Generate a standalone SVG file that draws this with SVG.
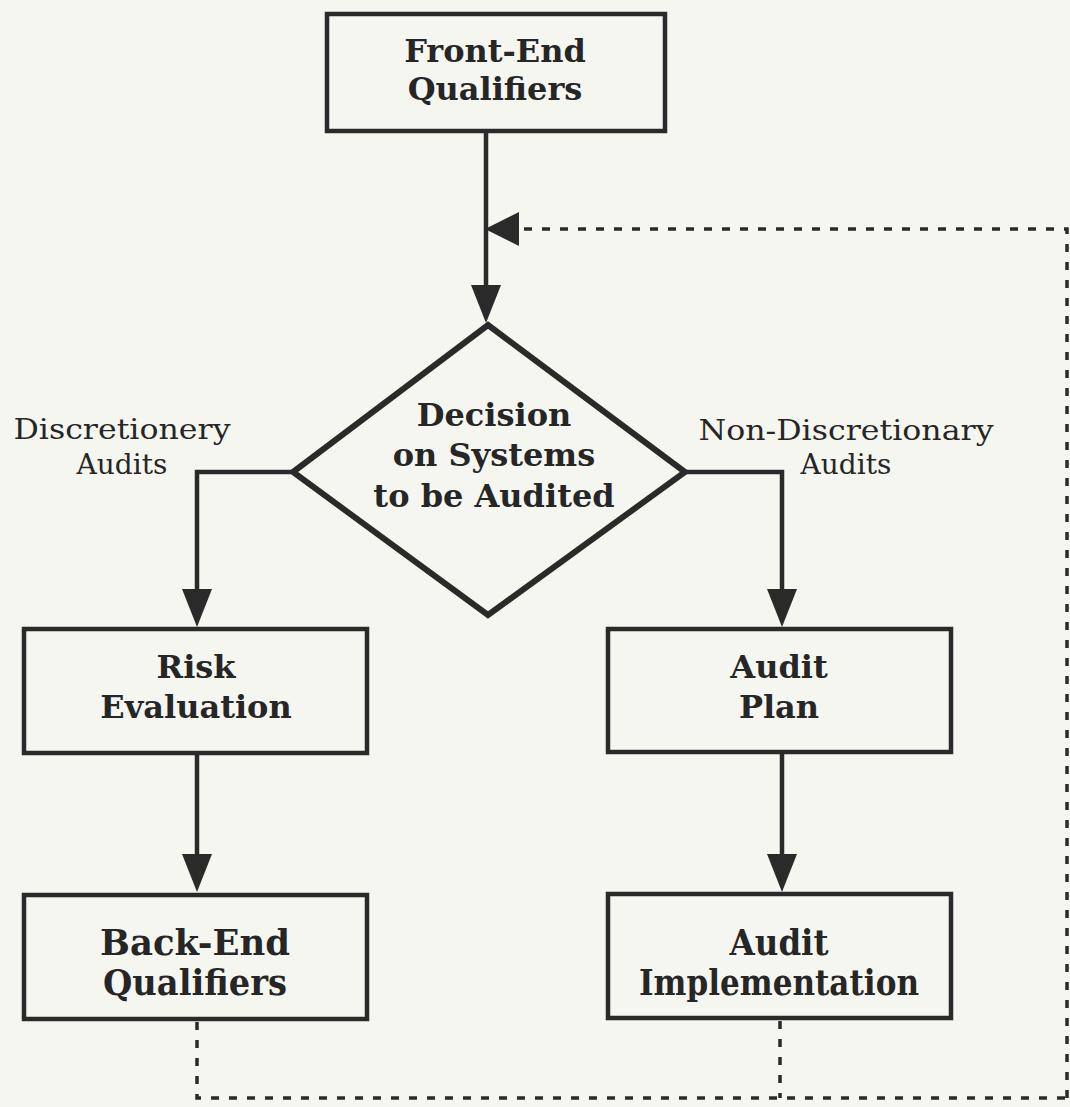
<svg xmlns="http://www.w3.org/2000/svg" width="1070" height="1107" viewBox="0 0 1070 1107">
  <style>
    .box { fill: #f6f6f1; stroke: #2a2a2a; stroke-width: 4.5; }
    .diamond { fill: #f6f6f1; stroke: #2a2a2a; stroke-width: 6; stroke-linejoin: miter; }
    .line { fill: none; stroke: #2a2a2a; stroke-width: 4.5; }
    .dash { fill: none; stroke: #2a2a2a; stroke-width: 3.5; stroke-dasharray: 8 10; }
    .head { fill: #2a2a2a; }
    .title { font-family: "DejaVu Serif", "Liberation Serif", serif; font-weight: bold; font-size: 32px; fill: #262626; text-anchor: middle; }
    .cond { font-family: "DejaVu Serif", "Liberation Serif", serif; font-weight: bold; font-size: 35px; fill: #262626; text-anchor: middle; }
    .label { font-family: "DejaVu Serif", "Liberation Serif", serif; font-size: 28px; fill: #262626; text-anchor: middle; }
  </style>

  <rect x="0" y="0" width="1070" height="1107" fill="#f6f6f1"/>

  <!-- connectors -->
  <g id="connectors">
    <!-- Front-End to decision -->
    <line class="line" x1="486" y1="131" x2="486" y2="292"/>
    <polygon class="head" points="471,285 501,285 486,323"/>
    <!-- feedback return into main line -->
    <path class="dash" d="M1067,1098 L1067,229 L522,229"/>
    <polygon class="head" points="519,212 519,246 485,229"/>
    <path class="dash" d="M197,1022 L197,1098 L1067,1098"/>
    <line class="dash" x1="780" y1="1021" x2="780" y2="1098"/>
    <!-- discretionary branch -->
    <path class="line" d="M293,472 L197,472 L197,595"/>
    <polygon class="head" points="182,589 212,589 197,627"/>
    <!-- non-discretionary branch -->
    <path class="line" d="M685,472 L782,472 L782,595"/>
    <polygon class="head" points="767,589 797,589 782,627"/>
    <!-- risk evaluation to back-end -->
    <line class="line" x1="197" y1="753" x2="197" y2="860"/>
    <polygon class="head" points="182,854 212,854 197,892"/>
    <!-- audit plan to implementation -->
    <line class="line" x1="782" y1="752" x2="782" y2="860"/>
    <polygon class="head" points="767,854 797,854 782,892"/>
  </g>

  <g id="front-end">
    <rect class="box" x="327" y="14" width="338" height="117"/>
    <text class="title" x="495" y="62" font-size="34">Front-End</text>
    <text class="title" x="495" y="100" font-size="34">Qualifiers</text>
  </g>

  <g id="decision">
    <polygon class="diamond" points="488,325 685,472 488,615 293,472"/>
    <text class="title" x="494" y="426">Decision</text>
    <text class="title" x="494" y="466">on Systems</text>
    <text class="title" x="494" y="507">to be Audited</text>
  </g>

  <g id="label-discretionary">
    <text class="label" x="122" y="439" textLength="217" lengthAdjust="spacingAndGlyphs">Discretionery</text>
    <text class="label" x="122" y="474">Audits</text>
  </g>

  <g id="label-non-discretionary">
    <text class="label" x="846" y="440" textLength="295" lengthAdjust="spacingAndGlyphs">Non-Discretionary</text>
    <text class="label" x="846" y="474">Audits</text>
  </g>

  <g id="risk-evaluation">
    <rect class="box" x="24" y="629" width="343" height="124"/>
    <text class="title" x="196" y="678">Risk</text>
    <text class="title" x="196" y="718">Evaluation</text>
  </g>

  <g id="audit-plan">
    <rect class="box" x="608" y="629" width="343" height="123"/>
    <text class="title" x="779" y="678">Audit</text>
    <text class="title" x="779" y="718">Plan</text>
  </g>

  <g id="back-end">
    <rect class="box" x="24" y="895" width="343" height="124"/>
    <text class="cond" x="195" y="955" textLength="190" lengthAdjust="spacingAndGlyphs">Back-End</text>
    <text class="cond" x="195" y="995" textLength="184" lengthAdjust="spacingAndGlyphs">Qualifiers</text>
  </g>

  <g id="audit-implementation">
    <rect class="box" x="608" y="894" width="343" height="124"/>
    <text class="cond" x="779" y="955" textLength="99" lengthAdjust="spacingAndGlyphs">Audit</text>
    <text class="cond" x="779" y="995" textLength="280" lengthAdjust="spacingAndGlyphs">Implementation</text>
  </g>
</svg>
